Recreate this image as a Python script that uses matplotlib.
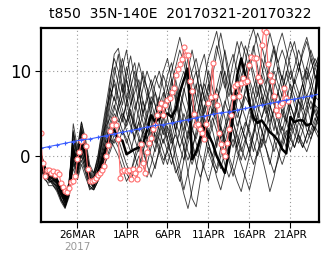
import matplotlib
matplotlib.use("Agg")
from matplotlib import pyplot as plt
import pandas as pd

# ensemble members, 12-hourly from 2017-03-21 12Z
members = [
    [0.0, -1.5, -2.0, -2.8, -3.0, -4.5, -5.5, -4.0, 1.0, -0.5,
     2.0, -0.5, -3.0, -3.5, -1.5, 0.5, 3.0, 6.0, 9.5, 12.0,
     8.0, 5.0, 3.5, 2.0, 4.0, 6.5, 5.0, 3.0, 1.5, 4.0,
     7.0, 9.5, 11.0, 8.0, 5.0, 3.0, 5.5, 8.5, 10.0, 7.5,
     4.0, 2.0, 3.5, 6.0, 9.0, 12.5, 10.0, 6.0, 3.5, 5.0,
     8.0, 11.0, 13.0, 10.5, 7.0, 5.0, 6.5, 9.0, 7.5, 5.0,
     4.0, 6.5, 9.0, 11.0, 8.5, 6.0, 7.5, 9.5, 8.0],
    [-1.0, -2.5, -2.2, -2.0, -3.2, -3.8, -4.8, -3.0, 2.5, 0.0,
     3.5, 1.0, -2.0, -2.5, -1.0, 1.5, 4.0, 7.5, 10.5, 8.5,
     6.0, 9.0, 7.0, 4.0, 2.5, 1.0, 3.0, 5.5, 7.5, 5.0,
     3.0, 1.5, 0.0, -1.5, -3.0, -0.5, 2.5, 5.0, 8.0, 10.5,
     12.0, 9.0, 6.0, 4.5, 2.0, 0.5, 2.5, 5.0, 7.0, 9.5,
     11.0, 8.5, 6.0, 3.5, 1.0, 3.0, 5.5, 8.0, 10.5, 9.0,
     7.0, 5.0, 3.5, 5.0, 7.5, 10.0, 8.0, 6.0, 5.5],
    [-0.5, -2.0, -3.0, -3.0, -2.5, -4.0, -6.0, -4.5, -0.5, -2.0,
     0.5, -1.0, -3.5, -4.0, -3.0, -1.5, 0.5, 1.5, 3.5, 2.0,
     0.5, -1.0, -2.0, -0.5, 1.0, 3.0, 2.0, 0.0, -1.5, 1.0,
     3.5, 2.0, 4.0, 6.5, 4.0, 1.0, -2.0, -5.0, -6.0, -3.0,
     0.0, 2.5, 4.5, 3.0, 1.0, -1.0, -2.5, -1.0, 1.5, 3.5,
     2.0, 0.5, 2.5, 5.0, 3.0, 1.0, -1.0, 1.5, 3.5, 5.5,
     4.0, 2.5, 1.0, 2.5, 4.5, 6.0, 4.0, 3.0, 5.0],
    [0.5, -1.0, -2.5, -3.2, -3.5, -4.2, -5.0, -3.8, 3.0, 0.5,
     4.0, 1.5, -1.5, -2.0, -0.5, 2.0, 5.0, 8.0, 6.5, 9.5,
     11.5, 9.0, 6.0, 7.5, 9.0, 6.5, 4.0, 2.5, 4.5, 7.0,
     9.5, 8.0, 5.5, 3.0, 5.0, 7.5, 10.0, 12.5, 10.0, 7.0,
     5.0, 7.0, 9.5, 12.0, 14.5, 12.0, 9.0, 6.5, 8.0, 10.5,
     13.0, 11.5, 9.0, 7.0, 9.5, 12.0, 14.5, 12.5, 10.0, 8.0,
     9.5, 12.0, 13.5, 11.0, 9.0, 10.5, 12.5, 11.0, 10.0],
    [-1.5, -2.5, -3.5, -3.5, -4.0, -5.0, -5.8, -4.5, -1.0, -2.5,
     -0.5, -2.0, -4.0, -3.5, -2.0, -1.0, 0.0, 2.0, 1.0, 0.0,
     -1.5, -3.0, -2.0, 0.0, 2.0, 1.0, -1.0, -2.5, -1.0, 0.5,
     2.0, 0.5, -1.0, 1.0, 3.0, 5.0, 3.5, 1.5, 0.0, 1.5,
     3.5, 1.5, -0.5, -2.5, -4.0, -2.0, 0.5, 2.0, 0.5, -1.0,
     -2.5, -4.0, -2.0, 0.5, 2.0, 1.0, -0.5, -2.0, -0.5, 1.5,
     3.0, 2.0, 1.0, 2.5, 1.5, 0.5, 2.0, 3.5, 2.5],
    [0.0, -2.0, -2.5, -2.5, -3.0, -4.8, -5.2, -3.5, 1.5, -1.0,
     3.0, 0.5, -2.5, -3.0, -2.5, 0.0, 2.0, 4.0, 5.5, 8.0,
     10.5, 12.5, 9.0, 6.5, 4.5, 3.0, 5.0, 7.0, 6.0, 4.0,
     2.5, 4.5, 7.0, 9.0, 6.5, 4.0, 2.0, 4.0, 6.5, 8.5,
     7.0, 5.0, 3.0, 1.0, 3.5, 6.0, 8.5, 11.0, 13.5, 11.5,
     9.0, 6.5, 4.0, 6.0, 8.5, 7.0, 5.0, 3.0, 5.5, 7.5,
     10.0, 8.0, 6.0, 4.5, 6.5, 9.0, 11.5, 9.5, 8.0],
    [-1.0, -1.8, -2.8, -2.6, -3.4, -4.4, -5.4, -4.2, 0.0, -1.5,
     1.0, -1.0, -3.0, -3.8, -2.0, -0.5, 1.5, 3.0, 4.5, 3.5,
     2.5, 4.0, 5.5, 3.5, 2.0, 0.5, -1.0, 1.0, 3.0, 2.0,
     0.5, -1.0, 1.0, 3.0, 5.5, 8.0, 6.0, 3.5, 1.5, 0.0,
     -1.5, -3.0, -1.0, 1.5, 3.5, 2.0, 0.0, -1.5, -3.0, -4.2,
     -2.0, 0.0, 2.5, 4.5, 3.0, 1.5, 3.5, 5.5, 4.0, 2.5,
     1.0, 2.5, 4.5, 6.5, 5.0, 3.0, 2.0, 3.5, 5.0],
    [0.5, -1.2, -2.0, -2.4, -2.8, -3.6, -4.5, -3.2, 3.8, 1.0,
     4.0, 2.0, -1.0, -2.0, 0.0, 3.0, 6.0, 9.0, 11.5, 10.0,
     7.5, 10.5, 8.0, 5.5, 7.0, 9.5, 8.0, 6.0, 8.5, 10.0,
     8.0, 6.0, 8.5, 10.5, 12.5, 11.0, 8.5, 6.0, 4.0, 6.5,
     9.0, 11.5, 13.0, 14.7, 12.0, 9.5, 7.0, 9.0, 11.5, 13.5,
     12.0, 10.0, 12.5, 14.5, 13.0, 11.0, 8.5, 10.5, 13.0, 14.5,
     12.5, 10.5, 8.5, 10.0, 12.0, 13.5, 11.5, 9.5, 8.5],
    [-0.8, -2.2, -2.6, -3.0, -3.8, -4.6, -5.6, -4.0, 0.5, -1.8,
     1.5, -0.5, -2.8, -3.2, -1.8, 0.5, 2.5, 5.0, 7.0, 5.5,
     4.0, 6.5, 9.5, 11.0, 8.0, 5.0, 3.5, 2.0, 0.5, 2.5,
     4.5, 6.5, 5.0, 3.0, 1.0, 2.5, 4.5, 6.5, 8.5, 6.0,
     3.5, 1.5, 0.0, 2.0, 4.5, 6.5, 5.0, 3.0, 1.0, -0.5,
     1.5, 3.5, 5.5, 7.5, 9.5, 8.0, 6.0, 4.0, 2.5, 4.5,
     6.5, 8.5, 7.0, 5.0, 3.5, 5.5, 7.5, 6.0, 4.5],
    [-0.2, -1.6, -2.4, -2.2, -3.0, -4.0, -5.0, -3.6, 2.0, 0.0,
     2.5, 0.0, -2.0, -2.8, -1.2, 1.0, 3.5, 4.5, 6.0, 4.5,
     3.0, 1.5, 3.0, 5.0, 7.5, 10.0, 8.0, 5.5, 3.5, 5.0,
     6.5, 4.5, 2.5, 0.5, -1.5, -4.0, -2.0, 0.5, 3.0, 5.5,
     7.5, 10.0, 8.0, 5.5, 3.5, 1.5, -0.5, -2.4, -0.5, 1.5,
     3.5, 5.5, 4.0, 2.0, 0.0, -2.0, -4.2, -2.5, 0.0, 2.0,
     4.0, 6.0, 4.5, 2.5, 1.0, 2.5, 4.0, 5.5, 4.0],
    [-1.2, -2.8, -3.2, -2.8, -3.6, -5.0, -6.0, -4.6, -1.5, -2.8,
     -1.0, -2.5, -3.8, -4.0, -3.0, -2.0, -0.5, 0.5, 2.0, 1.0,
     -0.5, -2.0, -3.0, -1.5, 0.0, -1.0, -2.5, -1.0, 1.0, 3.0,
     5.0, 7.0, 9.0, 7.0, 4.5, 2.5, 0.5, -1.0, 0.5, 2.5,
     4.5, 3.0, 1.5, 0.0, -1.5, 0.5, 2.5, 4.0, 2.5, 1.0,
     -0.5, 1.0, 3.0, 5.0, 7.0, 5.5, 3.5, 2.0, 0.5, -1.0,
     0.5, 2.0, 3.5, 2.0, 1.0, 2.5, 4.0, 3.0, 2.0],
    [0.2, -1.4, -2.2, -2.6, -3.2, -4.2, -5.2, -3.4, 1.0, -0.8,
     2.0, 0.0, -2.2, -2.6, -1.0, 1.5, 4.5, 8.5, 12.0, 12.7,
     10.0, 7.0, 5.0, 3.0, 5.5, 8.0, 10.0, 8.5, 6.0, 4.0,
     6.0, 8.0, 10.0, 12.0, 14.0, 12.0, 9.5, 7.0, 5.0, 3.0,
     5.5, 8.0, 10.5, 13.0, 11.0, 8.5, 6.0, 4.0, 6.5, 9.0,
     11.0, 13.5, 15.0, 13.0, 10.5, 8.5, 11.0, 13.0, 11.0, 9.0,
     11.5, 13.5, 12.0, 10.0, 12.5, 14.0, 12.0, 10.5, 12.0],
    [-0.6, -2.4, -2.8, -3.4, -4.2, -5.4, -6.2, -4.8, -0.5, -2.2,
     0.0, -1.5, -3.2, -3.6, -2.5, -1.0, 1.0, 2.5, 4.0, 6.0,
     8.5, 6.5, 4.0, 2.0, 0.5, 2.5, 4.5, 6.5, 4.5, 3.0,
     1.5, 3.5, 2.0, -0.5, -2.5, -4.5, -6.2, -4.0, -1.5, 1.0,
     3.0, 5.0, 7.0, 5.0, 3.0, 1.5, 3.5, 5.5, 7.5, 6.0,
     4.5, 2.5, 0.5, 2.5, 4.5, 6.5, 8.5, 6.5, 4.5, 3.0,
     5.0, 7.0, 9.0, 7.5, 6.0, 4.0, 2.5, 4.0, 6.0],
    [-0.4, -1.9, -2.3, -2.9, -3.1, -4.3, -5.3, -3.9, 1.2, -1.2,
     2.5, 0.5, -2.6, -3.3, -2.2, 0.0, 2.0, 3.5, 5.0, 4.0,
     5.0, 4.0, 6.0, 8.5, 11.0, 9.0, 7.0, 4.5, 2.0, 0.5,
     -1.0, 1.0, 3.0, 5.0, 7.0, 9.0, 11.5, 9.5, 7.0, 5.0,
     2.5, 0.5, -1.0, -2.0, 0.0, 2.5, 5.0, 7.5, 5.5, 3.5,
     2.0, 4.0, 6.5, 9.0, 11.5, 10.0, 8.0, 6.0, 7.5, 9.5,
     8.0, 6.0, 4.5, 6.5, 8.5, 10.5, 9.0, 7.0, 6.5],
    [-0.3, -1.7, -2.6, -2.7, -3.3, -4.6, -5.6, -4.1, 0.8, -1.4,
     1.8, -0.2, -2.4, -3.4, -2.6, -1.2, 0.5, 2.0, 3.0, 5.5,
     7.0, 9.5, 11.8, 9.0, 6.0, 4.0, 2.0, 3.5, 5.5, 7.0,
     5.0, 3.0, 1.5, 2.5, 1.0, -0.5, 1.5, 3.0, 2.0, 4.0,
     6.0, 4.0, 5.5, 8.0, 6.5, 4.5, 2.5, 1.0, 3.0, 5.0,
     7.0, 6.0, 8.0, 9.5, 7.5, 6.0, 4.0, 5.5, 7.5, 6.0,
     4.5, 3.0, 5.0, 7.0, 8.5, 7.0, 5.5, 7.0, 9.0],
    [-0.9, -2.1, -2.9, -3.1, -3.7, -5.2, -5.9, -4.4, -0.8, -2.0,
     0.2, -1.8, -3.6, -3.9, -2.8, -1.8, -0.5, 1.0, 2.5, 1.5,
     3.0, 2.0, 0.5, 2.5, 4.0, 2.5, 1.0, 2.0, 4.0, 6.0,
     4.5, 2.0, 0.0, -2.0, -1.0, 1.0, 3.0, 1.5, -1.0, -2.5,
     -1.0, 1.0, 0.0, -1.5, 1.0, 3.0, 4.5, 3.0, 1.0, 2.5,
     4.0, 3.0, 1.5, 0.0, 1.5, 3.5, 2.0, 0.5, 2.0, 3.5,
     2.0, 0.5, 2.0, 4.0, 3.0, 1.5, 3.0, 4.5, 3.5],
    [0.3, -1.1, -2.3, -2.5, -2.9, -3.9, -4.7, -3.3, 2.8, 0.2,
     3.2, 1.2, -1.8, -2.4, -0.8, 1.8, 3.8, 6.5, 9.0, 7.0,
     5.5, 3.5, 5.0, 3.5, 3.0, 5.0, 7.0, 9.0, 7.5, 6.0,
     7.5, 6.0, 4.0, 5.5, 7.5, 6.0, 4.5, 3.0, 4.5, 6.5,
     8.5, 7.0, 5.0, 6.5, 8.0, 10.0, 8.0, 6.5, 4.5, 6.0,
     7.5, 9.0, 7.5, 6.0, 4.5, 6.0, 8.0, 10.0, 8.5, 7.0,
     8.5, 10.0, 8.0, 6.5, 5.5, 7.0, 8.5, 10.5, 9.0],
    [-0.7, -2.3, -2.7, -3.3, -3.9, -5.1, -6.1, -4.3, -0.2, -1.6,
     0.8, -1.2, -3.1, -3.7, -2.3, -0.8, 1.0, 2.0, 1.5, 3.0,
     4.5, 3.0, 1.5, 0.0, -1.5, 0.5, 2.0, 3.5, 2.5, 1.0,
     -0.5, 0.5, 2.0, 4.0, 2.5, 1.0, -0.5, 1.0, 2.5, 4.0,
     2.5, 4.0, 5.5, 4.0, 2.0, 3.5, 5.5, 4.0, 2.0, 0.5,
     2.0, 0.5, -1.0, 0.5, 2.5, 4.5, 6.0, 4.5, 2.5, 1.0,
     2.5, 4.0, 2.5, 1.5, 3.0, 5.0, 6.5, 5.0, 4.0],
    [0.1, -1.3, -2.1, -2.3, -2.7, -3.8, -4.9, -3.7, 1.8, -0.3,
     2.8, 0.8, -1.6, -2.2, -0.2, 2.5, 5.5, 7.0, 8.5, 6.5,
     4.5, 6.0, 8.0, 10.0, 7.5, 5.0, 6.5, 8.0, 9.5, 8.0,
     10.0, 11.5, 9.0, 6.5, 8.5, 10.0, 8.0, 10.0, 11.5, 9.0,
     6.5, 8.5, 6.5, 8.0, 10.0, 8.0, 10.5, 12.0, 10.0, 7.5,
     9.5, 11.5, 10.0, 8.0, 6.0, 8.0, 10.5, 12.5, 11.0, 12.5,
     11.0, 9.0, 10.5, 12.5, 11.0, 9.0, 10.0, 11.5, 10.5],
]

# thick member, 12-hourly
control = [-0.5, -2.0, -2.5, -2.3, -2.8, -4.0, -5.0, -3.5, 0.5, -1.0,
           1.5, 0.0, -2.5, -3.0, -2.0, -0.5, 1.0, 2.5, 3.0, 2.0,
           1.8, 0.2, 0.5, 0.8, 1.0, 1.4, 3.0, 4.8, 4.0, 4.5,
           4.8, 5.0, 4.6, 5.5, 7.5, 9.0, 10.3, -0.4, 0.5, 2.0,
           3.6, 2.5, 1.5, 0.0, -1.0, -2.0, 0.5, 5.0, 9.5, 11.5,
           9.5, 6.3, 4.5, 3.9, 4.2, 3.5, 2.8, 2.4, 1.8, 0.8,
           0.3, 4.6, 4.0, 4.2, 4.2, 3.6, 3.8, 6.8, 11.5]

# observed, 6-hourly
obs = [2.7, -0.8, -2.4, -1.7, -1.6, -2.0, -1.8, -2.2, -1.9, -2.1,
       -3.2, -3.7, -4.1, -4.3, -3.8, -3.1, -2.9, -2.4, -0.4, 0.5,
       1.8, 2.4, 1.2, -1.5, -2.9, -3.0, -2.8, -2.6, -2.3, -2.0,
       -1.7, -1.2, 0.0, 1.3, 3.0, 3.6, 4.4, 3.6, 2.0, -2.6,
       -1.8, -1.7, -1.8, -1.6, -2.7, -1.5, -2.0, -2.7, -1.5, 1.4,
       -0.8, -2.0, 0.5, 1.5, 2.1, 3.2, 3.6, 4.8, 5.6, 6.2,
       4.8, 6.0, 6.6, 6.8, 7.5, 8.0, 9.5, 10.3, 10.8, 11.4,
       12.8, 11.9, 11.9, 8.9, 7.7, 5.0, 3.6, 3.8, 3.2, 2.7,
       2.0, 3.8, 6.3, 7.0, 11.0, 7.1, 6.0, 2.7, 1.4, 0.6,
       0.0, 1.5, 3.2, 4.8, 6.9, 8.3, 8.5, 7.1, 8.6, 9.2,
       8.7, 8.9, 10.7, 11.7, 11.5, 11.5, 9.3, 8.9, 13.1, 14.8,
       14.6, 10.9, 9.5, 8.9, 7.1, 5.4, 4.8, 6.0, 6.2, 8.0,
       6.8, 6.5]

# climatology, daily
clim = [0.9, 1.1, 1.3, 1.5, 1.7, 1.9, 2.0, 2.2, 2.4, 2.6,
        2.8, 3.0, 3.2, 3.4, 3.6, 3.7, 3.9, 4.1, 4.3, 4.5,
        4.7, 4.9, 5.1, 5.2, 5.4, 5.6, 5.8, 6.0, 6.2, 6.4,
        6.6, 6.7, 6.9, 7.1, 7.3]

tick_dates = ["2017-03-26", "2017-04-01", "2017-04-06", "2017-04-11",
              "2017-04-16", "2017-04-21"]
tick_labels = ["26MAR", "1APR", "6APR", "11APR", "16APR", "21APR"]

start = "2017-03-21 12:00"
t_mem = pd.date_range(start, periods=len(control), freq="12h")
t_obs = pd.date_range(start, periods=len(obs), freq="6h")
t_clim = pd.date_range(start, periods=len(clim), freq="24h")

fig = plt.figure(figsize=(3.32, 2.61), dpi=100)
ax = fig.add_axes([0.122, 0.149, 0.839, 0.744])

for m in members:
    ax.plot(t_mem, m, color="black", lw=0.65, alpha=0.75)
ax.plot(t_mem, control, color="black", lw=1.8)
ax.plot(t_obs, obs, color="#ff6f6f", lw=0.8, marker="o", ms=3.6,
        mfc="white", mec="#ff6f6f", mew=0.8)
ax.plot(t_clim, clim, color="#3a5cff", lw=0.8, marker="+", ms=3.5, mew=0.8)

ax.set_xlim(pd.Timestamp("2017-03-21 12:00"), pd.Timestamp("2017-04-24 12:00"))
ax.set_ylim(-7.8, 15.1)
ax.set_xticks(pd.to_datetime(tick_dates))
ax.set_xticklabels(tick_labels, fontsize=7.5)
ax.set_yticks([0, 10])
ax.set_yticklabels(["0", "10"], fontsize=12)
ax.tick_params(direction="out", length=4, width=0.8, colors="black")
ax.tick_params(axis="x", pad=2)
ax.tick_params(axis="y", pad=3)
ax.grid(True, color="#999999", linestyle=(0, (1, 2.5)), linewidth=0.8)
for s in ax.spines.values():
    s.set_linewidth(1.6)

fig.text(0.542, 0.946, "t850  35N-140E  20170321-20170322", ha="center",
         va="center", fontsize=10)
ax.text(pd.Timestamp("2017-03-26"), -0.13, "2017", transform=ax.get_xaxis_transform(),
        ha="center", va="center", fontsize=7.5, color="#999999")

fig.savefig("out.png", dpi=100)
